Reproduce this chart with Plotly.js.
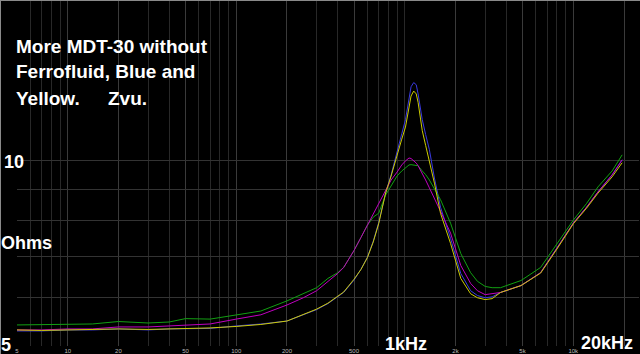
<!DOCTYPE html>
<html>
<head>
<meta charset="utf-8">
<script src="https://cdn.plot.ly/plotly-3.0.1.min.js"></script>
<style>
html,body{margin:0;padding:0;background:#000;}
#chart{width:640px;height:354px;}
</style>
</head>
<body>
<div id="chart"></div>
<script>
// Frequency grid (Hz)
const freqHz = [5,7,10,14,20,30,40,50,70,100,140,200,250,300,350,400,434,500,550,600,650,700,770,830,900,960,1010,1060,1090,1130,1170,1200,1270,1330,1400,1500,1630,1870,2150,2460,2700,3000,3300,3700,4900,6400,8000,10000,12000,14000,17000,19500];

// Impedance magnitude (Ohms) per driver
const blueOhms    = [5.29,5.29,5.31,5.31,5.33,5.31,5.33,5.33,5.34,5.39,5.43,5.49,5.62,5.73,5.86,6.01,6.11,6.40,6.67,6.97,7.40,7.93,8.87,9.49,10.39,11.07,11.67,12.68,13.20,13.41,13.30,12.85,11.67,11.04,10.43,9.38,8.41,7.48,6.56,6.15,6.04,5.99,6.01,6.11,6.27,6.58,7.21,7.92,8.41,8.90,9.49,10.04];
const yellowOhms  = [5.31,5.30,5.31,5.32,5.33,5.32,5.33,5.34,5.35,5.38,5.42,5.49,5.62,5.74,5.87,6.02,6.12,6.42,6.66,6.96,7.38,7.90,8.87,9.45,10.25,10.85,11.35,12.15,12.75,12.99,12.85,12.45,11.20,10.60,10.00,9.20,8.22,7.34,6.44,6.08,5.99,5.95,5.97,6.11,6.27,6.57,7.19,7.90,8.38,8.86,9.42,9.93];
const magentaOhms = [5.31,5.31,5.33,5.33,5.37,5.37,5.39,5.41,5.43,5.53,5.62,5.83,5.99,6.15,6.36,6.56,6.71,7.15,7.51,7.86,8.19,8.47,8.92,9.31,9.59,9.85,10.00,10.11,10.09,10.00,9.92,9.82,9.56,9.31,9.04,8.70,8.28,7.63,6.76,6.32,6.15,6.06,6.08,6.11,6.27,6.58,7.21,7.92,8.41,8.90,9.49,10.04];
const greenOhms   = [5.41,5.42,5.43,5.43,5.48,5.45,5.47,5.54,5.53,5.62,5.70,5.92,6.08,6.22,6.44,6.58,6.71,7.15,7.51,7.86,8.10,8.22,8.80,9.10,9.45,9.63,9.75,9.85,9.86,9.85,9.84,9.82,9.63,9.50,9.31,9.02,8.65,7.92,7.07,6.58,6.37,6.25,6.22,6.22,6.39,6.71,7.34,8.01,8.53,9.07,9.63,10.23];

// Axis ticks
const xTickVals = [5,10,20,50,100,200,500,2000,5000,10000,20000];
const xTickText = ['5','10','20','50','100','200','500','2k','5k','10k',''];
const xMinorVals = [6,7,8,9,30,40,60,70,80,90,300,400,600,700,800,900,1000,3000,4000,6000,7000,8000,9000];
const yGridVals = [6,7,8,9,10];

const titleLines = ['More MDT-30 without','Ferrofluid, Blue and','Yellow.'];

const series = [
  {name:'Blue', y: blueOhms, color:'#3a3ae0'},
  {name:'Green', y: greenOhms, color:'#12a012'},
  {name:'Magenta', y: magentaOhms, color:'#c000c0'},
  {name:'Yellow', y: yellowOhms, color:'#cccc00'}
];

const traces = series.map(s => ({
  type:'scatter', mode:'lines', x: freqHz, y: s.y, name: s.name,
  line:{color:s.color, width:1}, hoverinfo:'skip'
}));

const W = 640, H = 354, ml = 17, mr = 1, mt = 1, mb = 8;
const pw = W - ml - mr, ph = H - mt - mb;
function px(x){ return (x - ml)/pw; }
function py(y){ return (H - mb - y)/ph; }

const bigFont = {family:'"Liberation Sans", Arial, sans-serif', size:18, color:'#ffffff', weight:'bold'};
const titleFont = {family:'"Liberation Sans", Arial, sans-serif', size:19, color:'#ffffff', weight:'bold'};

function ann(text, x, y, font, xanchor){
  return {text:text, xref:'paper', yref:'paper', x:px(x), y:py(y), xanchor:xanchor||'left', yanchor:'middle', showarrow:false, font:font, borderpad:0};
}

const annotations = [
  ann(titleLines[0], 15, 46, titleFont),
  ann(titleLines[1], 15, 72, titleFont),
  ann(titleLines[2], 15, 98, titleFont),
  ann('Zvu.', 107, 98, titleFont),
  ann('10', 3, 162, bigFont),
  ann('5', 0, 345, bigFont),
  ann('Ohms', 0, 243, bigFont),
  ann('1kHz', 384, 344, bigFont),
  ann('20kHz', 580, 343, bigFont)
];

const layout = {
  width: W, height: H,
  margin:{l:ml, r:mr, t:mt, b:mb, pad:0},
  paper_bgcolor:'#000', plot_bgcolor:'#000',
  showlegend:false,
  xaxis:{
    type:'log', range:[Math.log10(5), Math.log10(24550)],
    tickvals:xTickVals, ticktext:xTickText,
    tickfont:{family:'Arial, sans-serif', size:6, color:'#bbbbbb'},
    ticks:'', showgrid:true, gridcolor:'#3a3a3a', gridwidth:1,
    minor:{tickvals:xMinorVals, showgrid:true, gridcolor:'#282828', gridwidth:1, ticks:''},
    zeroline:false, showline:false, fixedrange:true
  },
  yaxis:{
    type:'log', range:[Math.log10(5), Math.log10(18.2)],
    tickvals:yGridVals, showticklabels:false,
    ticks:'', showgrid:true, gridcolor:'#333333', gridwidth:1,
    zeroline:false, showline:false, fixedrange:true
  },
  shapes:[
    {type:'line', xref:'paper', yref:'paper', x0:px(0.5), x1:px(0.5), y0:py(0), y1:py(H), line:{color:'#8a8a8a', width:1}},
    {type:'line', xref:'paper', yref:'paper', x0:px(0), x1:px(W), y0:py(0.5), y1:py(0.5), line:{color:'#8a8a8a', width:1}}
  ],
  annotations: annotations
};

Plotly.newPlot('chart', traces, layout, {displayModeBar:false, staticPlot:true});
</script>
</body>
</html>
